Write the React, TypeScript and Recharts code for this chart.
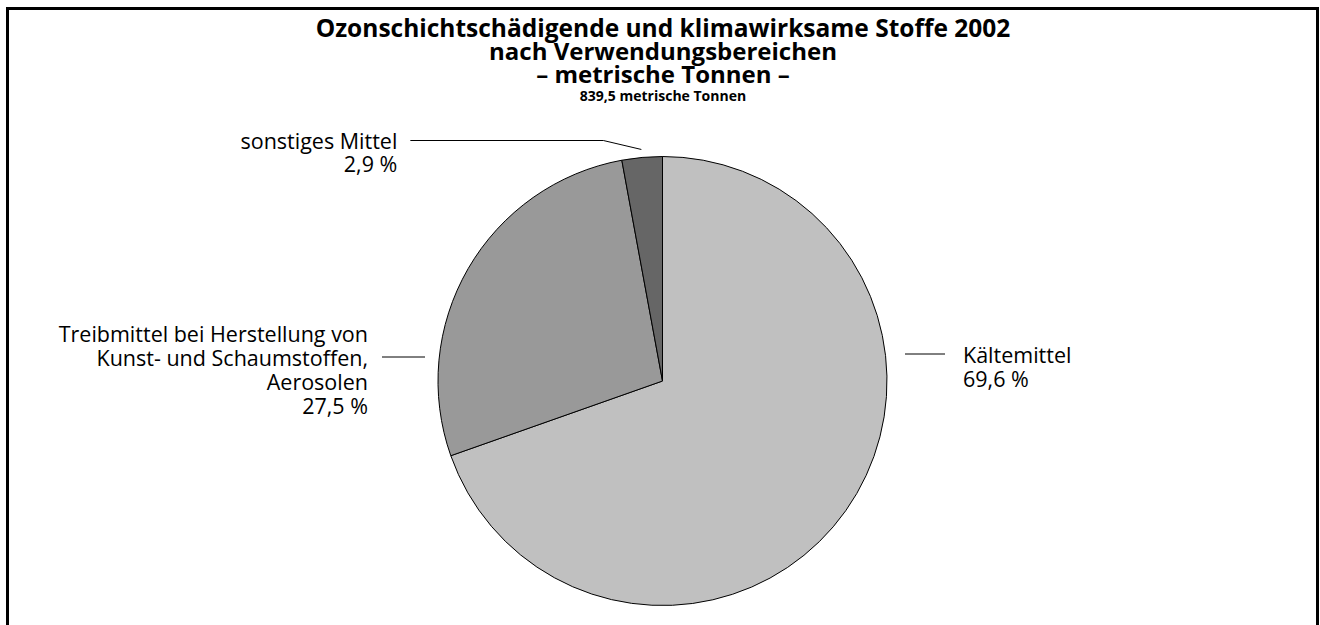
import React from "react";
import { PieChart, Pie, Cell } from "recharts";

const categories = ["Kältemittel", "Treibmittel bei Herstellung von Kunst- und Schaumstoffen, Aerosolen", "sonstiges Mittel"];
const shares = [69.6, 27.5, 2.9];
const shareLabels = ["69,6 %", "27,5 %", "2,9 %"];
const labelLines = [
  ["Kältemittel", "69,6 %"],
  ["Treibmittel bei Herstellung von", "Kunst- und Schaumstoffen,", "Aerosolen", "27,5 %"],
  ["sonstiges Mittel", "2,9 %"],
];
const colors = ["#c0c0c0", "#999999", "#666666"];

const titleLines = [
  "Ozonschichtschädigende und klimawirksame Stoffe 2002",
  "nach Verwendungsbereichen",
  "– metrische Tonnen –",
];
const subtitle = "839,5 metrische Tonnen";

const data = categories.map((name, i) => ({ name, value: shares[i], label: shareLabels[i] }));

const FONT = "'Open Sans', sans-serif";
const RAD = Math.PI / 180;
const LH = 24;

function renderLabel(props: any) {
  const { cx, cy, outerRadius, midAngle, index } = props;
  const lines = labelLines[index];
  const common = { fontFamily: FONT, fontSize: 21.5, fill: "#000" };
  if (index === 0) {
    const y = cy - 27;
    const x0 = cx + outerRadius + 18;
    return (
      <g>
        <line x1={x0} y1={y} x2={x0 + 40} y2={y} stroke="#000" strokeWidth={1} />
        {lines.map((t, k) => (
          <text key={k} x={x0 + 58} y={y + k * LH} dominantBaseline="central" textAnchor="start" {...common}>
            {t}
          </text>
        ))}
      </g>
    );
  }
  if (index === 1) {
    const y = cy - 24;
    const x1 = cx - outerRadius - 13;
    return (
      <g>
        <line x1={x1 - 43} y1={y} x2={x1} y2={y} stroke="#000" strokeWidth={1} />
        {lines.map((t, k) => (
          <text key={k} x={x1 - 57} y={y + (k - 1) * LH} dominantBaseline="central" textAnchor="end" {...common}>
            {t}
          </text>
        ))}
      </g>
    );
  }
  // kleiner Anteil oben: Knicklinie nach links
  const sx = cx + (outerRadius + 8) * Math.cos(-midAngle * RAD);
  const sy = cy + (outerRadius + 8) * Math.sin(-midAngle * RAD);
  const y = cy - outerRadius - 16;
  const kx = sx - 38;
  const ex = kx - 193;
  return (
    <g>
      <polyline points={`${sx},${sy} ${kx},${y} ${ex},${y}`} fill="none" stroke="#000" strokeWidth={1} />
      {lines.map((t, k) => (
        <text key={k} x={ex - 13} y={y + k * 23} dominantBaseline="central" textAnchor="end" {...common}>
          {t}
        </text>
      ))}
    </g>
  );
}

export default function App() {
  return (
    <div style={{ position: "absolute", left: 0, top: 0, width: 1320, height: 625, overflow: "hidden", background: "#fff" }}>
      <div
        style={{
          position: "absolute",
          left: 6,
          top: 7,
          width: 1307,
          height: 700,
          borderTop: "3px solid #000",
          borderLeft: "3px solid #000",
          borderRight: "3px solid #000",
        }}
      />
      <PieChart
        width={1320}
        height={625}
        margin={{ top: 0, right: 0, bottom: 0, left: 0 }}
        style={{ position: "absolute", left: 0, top: 0 }}
      >
        {titleLines.map((t, i) => (
          <text
            key={i}
            x={663}
            y={27 + i * 23}
            textAnchor="middle"
            dominantBaseline="central"
            fontFamily={FONT}
            fontWeight={700}
            fontSize={i === 0 ? 24.5 : 24}
          >
            {t}
          </text>
        ))}
        <text x={663} y={95} textAnchor="middle" dominantBaseline="central" fontFamily={FONT} fontWeight={700} fontSize={14}>
          {subtitle}
        </text>
        <Pie
          data={data}
          dataKey="value"
          nameKey="name"
          cx={662.5}
          cy={381}
          outerRadius={224.5}
          startAngle={90}
          endAngle={-270}
          stroke="#000"
          strokeWidth={1}
          label={renderLabel}
          labelLine={false}
          isAnimationActive={false}
        >
          {data.map((d, i) => (
            <Cell key={d.name} fill={colors[i]} />
          ))}
        </Pie>
      </PieChart>
    </div>
  );
}
